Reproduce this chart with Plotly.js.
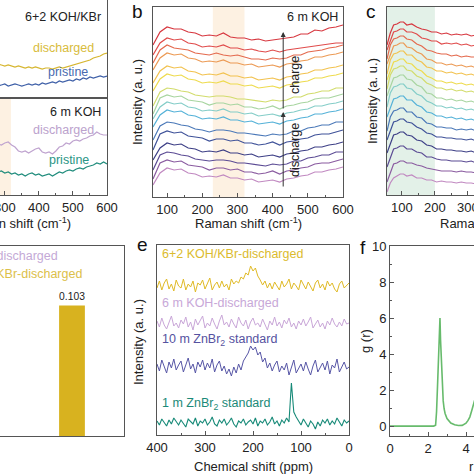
<!DOCTYPE html>
<html><head><meta charset="utf-8">
<script src="https://cdn.plot.ly/plotly-3.0.1.min.js"></script>
<style>html,body{margin:0;padding:0;overflow:hidden;width:474px;height:474px;background:#fff}
#chart{position:absolute;left:-130px;top:-10px;width:744px;height:484px}</style>
</head><body><div id="chart"></div>
<script>
// ---------- panel a (Raman, partly visible) ----------
const aX = [270,280,290,300,310,320,330,340,350,360,370,380,390,400,410,420,430,440,450,460,470,480,490,500,510,520,530,540,550,560,570,580,590,600];
const aKBrDischarged = [35,36,35,34,35,34,33,34,33,32,33,32,33,32,31,32,32,31,32,33,32,33,34,35,36,37,38,39,40,42,43,44,46,47];
const aKBrPristine   = [15,14,15,16,14,15,16,15,14,15,16,15,16,15,17,16,17,18,17,19,18,19,20,19,21,20,22,21,23,22,23,24,23,24];
const aKOHDischarged = [54,56,55,57,58,55,53,49,48,49,47,49,51,52,48,47,48,46,49,53,54,57,56,59,60,59,61,62,64,65,68,66,65,65];
const aKOHPristine   = [29,28,29,27,28,26,27,25,26,24,26,27,25,26,24,25,26,24,26,28,27,29,30,29,31,32,31,33,34,35,37,36,38,36];

// ---------- panel b (6 m KOH, in situ Raman) ----------
const bX = [60,80,100,120,140,160,180,200,220,240,260,280,300,320,340,360,380,400,420,440,460,480,500,520,540,560,580,600];
const b01 = [155,168,173,171,171,168,167,164,165,164,167,163,162,162,160,161,159,160,161,162,163,166,166,170,169,172,173,175];
const b02 = [145,157,162,160,161,157,156,153,154,153,155,152,152,150,151,149,148,150,148,150,151,152,153,154,155,156,157,157];
const b03 = [137,150,155,152,151,150,147,146,145,147,145,144,145,143,141,141,140,142,141,142,145,145,148,149,150,152,153,155];
const b04 = [130,142,147,145,146,142,141,138,139,138,140,137,137,135,136,133,134,135,133,136,137,139,140,143,143,145,146,148];
const b05 = [117,129,134,132,133,129,128,125,126,125,127,124,124,122,123,120,121,122,120,123,124,126,127,130,130,132,133,135];
const b06 = [109,121,126,124,125,121,120,117,118,117,119,116,116,114,115,112,113,114,112,115,116,118,119,122,122,124,125,127];
const b07 = [94,108,112,111,109,108,105,104,103,104,104,103,101,101,100,99,98,100,99,100,103,103,106,107,109,109,112,112];
const b08 = [86,102,105,103,104,100,99,98,95,97,97,95,96,93,93,91,92,94,91,94,95,97,98,101,102,102,104,106];
const b09 = [81,93,98,96,97,93,92,89,90,89,91,88,88,86,87,84,85,86,84,87,88,90,91,94,94,96,97,99];
const b10 = [73,85,90,88,89,85,84,81,82,81,83,80,80,78,79,76,77,78,76,79,80,82,83,86,86,88,89,91];
const b11 = [60,74,78,77,75,74,71,70,68,70,70,69,67,67,66,65,64,66,65,66,69,69,72,73,75,75,78,78];
const b12 = [50,66,69,67,68,64,63,62,59,61,61,59,60,57,57,55,56,58,55,58,59,61,62,65,66,66,68,70];
const b13 = [40,52,57,55,56,52,51,48,49,48,50,47,47,45,46,43,44,45,43,46,47,49,50,53,53,55,56,58];
const b14 = [30,45,48,47,45,44,41,40,39,40,40,39,37,37,36,35,34,36,35,36,39,39,42,43,45,45,48,48];
const b15 = [21,37,40,38,39,35,34,33,30,32,32,30,31,28,28,26,27,29,26,29,30,32,33,36,37,37,39,41];
const b16 = [15,27,32,30,31,27,26,23,24,23,25,22,22,20,21,18,19,20,18,21,22,24,25,28,28,30,31,33];

// ---------- panel c ----------
const cX = [55,65,75,85,95,105,115,130,145,160,175,190,205,220,235,250,265,280,295,310,325,340];
const c01 = [155,167,175,176,178,178,175,176,173,171,170,168,168,166,167,165,166,165,166,164,165,164];
const c02 = [150,160,168,169,171,171,168,168,166,162,161,159,159,156,157,156,157,155,156,154,155,154];
const c03 = [141,155,161,162,164,164,161,160,156,154,150,149,147,146,146,144,145,143,144,143,143,142];
const c04 = [136,146,154,155,157,157,153,152,148,146,141,140,137,137,135,136,134,135,133,134,132,133];
const c05 = [126,140,146,147,149,149,145,145,140,138,133,132,129,129,127,128,126,127,125,126,124,125];
const c06 = [120,130,138,139,141,141,137,136,131,129,124,122,119,119,117,118,116,117,115,116,114,115];
const c07 = [111,125,131,132,134,134,130,129,124,122,117,115,112,112,110,111,109,110,108,109,107,108];
const c08 = [104,114,122,123,125,125,121,120,115,113,107,106,102,102,100,101,99,100,98,99,97,98];
const c09 = [93,107,113,114,116,116,112,111,106,104,99,97,94,94,92,93,91,92,90,91,89,90];
const c10 = [83,93,101,102,104,104,100,100,95,93,88,87,84,84,82,83,81,82,80,81,79,80];
const c11 = [69,83,89,90,92,92,88,88,83,82,77,76,73,73,72,72,70,71,70,71,69,70];
const c12 = [60,70,78,79,81,81,78,77,73,71,67,66,63,63,62,62,61,61,60,61,59,60];
const c13 = [47,57,65,66,68,68,65,64,60,59,55,54,51,51,50,50,49,49,48,49,47,48];
const c14 = [33,43,51,52,54,54,51,51,48,47,43,43,41,40,40,39,39,39,38,39,37,38];
const c15 = [18,28,36,37,39,39,37,37,35,34,32,31,30,29,29,29,28,29,28,28,27,28];
const c16 = [8,17,22,24,26,26,24,25,22,22,20,20,18,19,18,18,17,18,17,17,16,17];

// ---------- panel d (bars) ----------
const dCats = [1, 2];
const dValues = [0.018, 0.103];
const dLabels = ['0.018', '0.103'];

// ---------- panel e (NMR) ----------
const eX = [400,395,390,385,380,375,370,365,360,355,350,345,340,335,330,325,320,315,310,305,300,295,290,285,280,275,270,265,260,255,250,245,240,235,230,225,220,215,210,205,200,195,190,185,180,175,170,165,160,155,150,145,140,135,130,125,120,115,110,105,100,95,90,85,80,75,70,65,60,55,50,45,40,35,30,25,20,15,10,5,0];
const eKBrDis = [186,193,184,191,195,185,190,183,194,188, 186,195,184,190,187,193,182,191,189,194, 185,190,196,184,189,192,186,193,187,190, 184,195,190,193,191,197,195,201,199,208, 203,206,198,194,189,193,186,191,185,192, 188,184,193,187,190,195,185,191,188,184, 194,189,185,192,187,183,191,194,186,190, 184,193,188,191,185,182,190,193,186,189, 191];
const eKOHDis = [153,147,156,149,145,152,158,148,151,146, 154,150,157,147,152,144,155,149,153,158, 146,151,148,156,150,145,153,159,149,152, 147,155,150,146,157,151,148,154,145,152, 156,149,151,147,155,150,144,153,149,157, 148,152,146,154,150,156,147,151,145,153, 149,155,148,152,157,146,150,154,147,151, 145,153,149,156,150,147,152,148,155,150, 151];
const eZn10 = [110,103,114,107,101,112,106,115,104,109, 113,102,108,116,105,110,101,112,107,114, 104,111,106,115,102,109,113,103,108,100, 105,98,107,101,110,104,113,117,121,128, 124,127,119,122,112,116,106,111,103,109, 113,102,108,104,111,99,107,114,101,106, 110,103,112,105,99,108,114,102,107,111, 104,113,100,109,106,115,102,108,112,105, 107];
const eZn1 = [53,49,55,51,48,54,50,56,52,49, 54,51,47,55,52,50,56,48,53,51, 55,49,52,57,50,48,54,51,55,49, 52,56,50,47,53,51,55,49,52,54, 50,56,48,53,51,55,49,52,57,50, 53,48,54,51,56,52,91,62,57,53, 49,55,51,47,53,50,45,52,48,54, 51,55,49,53,50,56,52,48,54,51, 53];

// ---------- panel f (g(r)) ----------
const fR = [0,1,2,2.3,2.4,2.45,2.5,2.55,2.6,2.63,2.66,2.7,2.75,2.8,2.85,2.9,3.0,3.1,3.2,3.4,3.6,3.8,3.9,4.0,4.1,4.2,4.3,4.4,4.5,4.6,4.8,5.0];
const fG = [0,0,0,0,0.05,0.8,2.2,4.0,5.6,6.0,4.8,3.6,2.4,1.4,0.95,0.7,0.42,0.28,0.17,0.07,0.03,0.04,0.08,0.16,0.3,0.5,0.85,1.3,1.6,1.7,1.5,1.2];

// ---------- styles ----------
const rainbow = ['#d7373f','#e04b4b','#e4694d','#ec9a54','#f2c24f','#eedb4e','#d2dc6c','#a8d5a0','#84cdc8','#55b2d8','#4a78b8','#3f5299','#3d3f86','#5b4b94','#8a5ba0','#c189c1'];
const F = 'Liberation Sans, Arial, sans-serif';
const W = 744, H = 484, OX = 130, OY = 10;
const dx = (a, b) => [(a + OX) / W, (b + OX) / W];
const dy = (top, bot) => [1 - (bot + OY) / H, 1 - (top + OY) / H];

const traces = [];
function line(x, y, xa, ya, color, w) {
  traces.push({type:'scatter', mode:'lines', x:x, y:y, xaxis:xa, yaxis:ya,
    line:{color:color, width:w || 1.2}, hoverinfo:'skip'});
}
line(aX, aKBrDischarged, 'x', 'y', '#d6b630');
line(aX, aKBrPristine, 'x', 'y', '#3f60a8');
line(aX, aKOHDischarged, 'x2', 'y2', '#bfa3cf');
line(aX, aKOHPristine, 'x2', 'y2', '#218d7d');
[b01,b02,b03,b04,b05,b06,b07,b08,b09,b10,b11,b12,b13,b14,b15,b16].forEach((s, i) => line(bX, s, 'x3', 'y3', rainbow[i]));
[c01,c02,c03,c04,c05,c06,c07,c08,c09,c10,c11,c12,c13,c14,c15,c16].forEach((s, i) => line(cX, s, 'x4', 'y4', rainbow[i]));
traces.push({type:'bar', x:dCats, y:dValues, xaxis:'x5', yaxis:'y5', width:0.3,
  marker:{color:['#c7a9d8','#d8b21f']}, text:dLabels, textposition:'outside', cliponaxis:false,
  textfont:{family:F, size:13, color:'#222'}, hoverinfo:'skip'});
line(eX, eKBrDis, 'x6', 'y6', '#e0ba26', 1);
line(eX, eKOHDis, 'x6', 'y6', '#c9a6d8', 1);
line(eX, eZn10, 'x6', 'y6', '#5756a6', 1);
line(eX, eZn1, 'x6', 'y6', '#178a78', 1.1);
line(fR, fG, 'x7', 'y7', '#67bb6c', 1.6);

function axis(dom, range, extra) {
  return Object.assign({domain:dom, range:range, showline:true, mirror:true, linecolor:'#555', linewidth:1,
    showgrid:false, zeroline:false, ticks:'', showticklabels:false, fixedrange:true,
    tickfont:{family:F, size:13, color:'#222'}, ticklabeloverflow:'allow'}, extra || {});
}
const tk = (dt, mdt, t0) => ({ticks:'inside', ticklen:4, tickcolor:'#555', showticklabels:true,
  tickmode:'linear', tick0:t0 || 0, dtick:dt, minor:{ticks:'inside', ticklen:2, tickcolor:'#555', dtick:mdt}});

function T(text, px, py, o) {
  return Object.assign({xref:'paper', yref:'paper', x:(px + OX) / W, y:1 - (py + OY) / H, text:text,
    showarrow:false, xanchor:'center', yanchor:'middle', font:{family:F, size:12.5, color:'#222'}}, o || {});
}
const col = (c, s) => ({family:F, size:s || 12.5, color:c});

const ann = [
  T('b', 137, 11, {font:col('#111', 19)}),
  T('c', 371, 12, {font:col('#111', 19)}),
  T('e', 142, 244, {font:col('#111', 19)}),
  T('f', 363, 247, {font:col('#111', 19)}),
  // panel a
  T('6+2 KOH/KBr', 103, 17, {xanchor:'right', font:col('#222')}),
  T('discharged', 63, 48, {font:col('#d8bc3c')}),
  T('pristine', 68, 72, {font:col('#4a6bb0')}),
  T('6 m KOH', 103, 112, {xanchor:'right', font:col('#222')}),
  T('discharged', 63, 130, {font:col('#bba2cd')}),
  T('pristine', 69, 160, {font:col('#2a9585')}),
  T('Raman shift (cm<sup>-1</sup>)', 17, 223, {font:col('#222', 13)}),
  // panel b
  T('6 m KOH', 340, 17, {xanchor:'right', font:col('#222')}),
  T('charge', 295, 75, {textangle:-90, font:col('#222')}),
  T('discharge', 295, 150, {textangle:-90, font:col('#222')}),
  {xref:'x3', yref:'y3', axref:'x3', ayref:'y3', x:430, y:168, ax:430, ay:90, text:'', showarrow:true,
    arrowhead:2, arrowsize:1, arrowwidth:1, arrowcolor:'#333'},
  {xref:'x3', yref:'y3', axref:'x3', ayref:'y3', x:430, y:88, ax:430, ay:12, text:'', showarrow:true,
    arrowhead:2, arrowsize:1, arrowwidth:1, arrowcolor:'#333'},
  T('Intensity (a. u.)', 137, 102, {textangle:-90, font:col('#222', 13)}),
  T('Raman shift (cm<sup>-1</sup>)', 248, 223, {font:col('#222', 13)}),
  // panel c
  T('Intensity (a. u.)', 373, 101, {textangle:-90, font:col('#222', 13)}),
  T('Raman shift (cm<sup>-1</sup>)', 493, 223, {font:col('#222', 13)}),
  // panel d
  T('6 m KOH-discharged', -61, 256, {xanchor:'left', font:col('#c4a9d6')}),
  T('6+2 KOH/KBr-discharged', -61, 274, {xanchor:'left', font:col('#dcc04a')}),
  // panel e
  T('6+2 KOH/KBr-discharged', 160, 254, {xanchor:'left', font:col('#dbbb2e')}),
  T('6 m KOH-discharged', 160, 303, {xanchor:'left', font:col('#c8a8d8')}),
  T('10 m ZnBr<sub>2</sub> standard', 160, 340, {xanchor:'left', font:col('#5552a0')}),
  T('1 m ZnBr<sub>2</sub> standard', 160, 404, {xanchor:'left', font:col('#1b8a78')}),
  T('Intensity (a. u.)', 138, 342, {textangle:-90, font:col('#222', 13)}),
  T('Chemical shift (ppm)', 253, 466, {font:col('#222', 13)}),
  // panel f
  T('g (r)', 365, 341, {textangle:-90, font:col('#222', 13)}),
  T('r (Å)', 481, 466, {font:col('#222', 13)})
];

const shapes = [
  {type:'rect', xref:'x3', yref:'y3 domain', x0:230, x1:320, y0:0, y1:1, fillcolor:'#fdf1e2', line:{width:0}, layer:'below'},
  {type:'rect', xref:'x2', yref:'y2 domain', x0:230, x1:318, y0:0, y1:1, fillcolor:'#fdf1e2', line:{width:0}, layer:'below'},
  {type:'rect', xref:'x4', yref:'y4 domain', x0:55, x1:200, y0:0, y1:1, fillcolor:'#e3f1e8', line:{width:0}, layer:'below'}
];

const layout = {
  width:W, height:H, margin:{l:0, r:0, t:0, b:0}, showlegend:false,
  paper_bgcolor:'#fff', plot_bgcolor:'#fff', font:{family:F, color:'#222'},
  xaxis: axis(dx(-77,107), [60,600], {anchor:'y'}),
  yaxis: axis(dy(-8,98), [2,108], {anchor:'x'}),
  xaxis2: axis(dx(-77,107), [60,600], Object.assign({anchor:'y2'}, tk(100, 50))),
  yaxis2: axis(dy(98,195), [5,102], {anchor:'x2'}),
  xaxis3: axis(dx(153,343), [60,600], Object.assign({anchor:'y3'}, tk(100, 50))),
  yaxis3: axis(dy(7,197), [3,193], {anchor:'x3'}),
  xaxis4: axis(dx(387,600), [55,700], Object.assign({anchor:'y4'}, tk(100, 50))),
  yaxis4: axis(dy(7,195), [5,193], {anchor:'x4'}),
  xaxis5: axis(dx(-66,124), [0.395,2.605], {anchor:'y5'}),
  yaxis5: axis(dy(246,436), [0,0.15], {anchor:'x5'}),
  xaxis6: axis(dx(157,349), [400,0], Object.assign({anchor:'y6'}, tk(100, 50))),
  yaxis6: axis(dy(245,435), [39,229], {anchor:'x6'}),
  xaxis7: axis(dx(390,580), [0,10], Object.assign({anchor:'y7'}, tk(2, 1))),
  yaxis7: axis(dy(246,436), [-0.55,10], Object.assign({anchor:'x7'}, tk(2, 1))),
  annotations: ann,
  shapes: shapes
};

Plotly.newPlot('chart', traces, layout, {staticPlot:true, displayModeBar:false});
</script></body></html>
